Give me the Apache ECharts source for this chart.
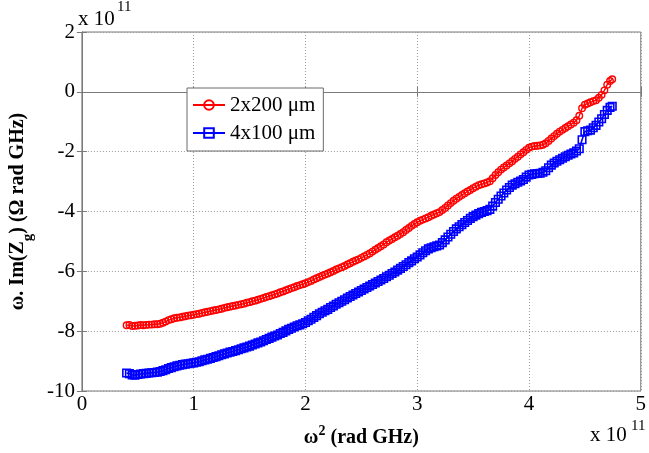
<!DOCTYPE html>
<html>
<head>
<meta charset="utf-8">
<script src="https://cdn.jsdelivr.net/npm/echarts@6/dist/echarts.min.js"></script>
<style>
  html, body { margin: 0; padding: 0; background: #fff; }
  #chart { width: 649px; height: 453px; }
</style>
</head>
<body>
<div id="chart"></div>
<script>
// ω² in units of 1e11 rad GHz
const omegaSq = [
  0.400, 0.425, 0.450, 0.475, 0.500, 0.525, 0.550, 0.575, 0.600, 0.625,
  0.650, 0.675, 0.700, 0.725, 0.750, 0.775, 0.800, 0.825, 0.850, 0.875,
  0.900, 0.925, 0.950, 0.975, 1.000, 1.025, 1.050, 1.075, 1.100, 1.125,
  1.150, 1.175, 1.200, 1.225, 1.250, 1.275, 1.300, 1.325, 1.350, 1.375,
  1.400, 1.425, 1.450, 1.475, 1.500, 1.525, 1.550, 1.575, 1.600, 1.625,
  1.650, 1.675, 1.700, 1.725, 1.750, 1.775, 1.800, 1.825, 1.850, 1.875,
  1.900, 1.925, 1.950, 1.975, 2.000, 2.025, 2.050, 2.075, 2.100, 2.125,
  2.150, 2.175, 2.200, 2.225, 2.250, 2.275, 2.300, 2.325, 2.350, 2.375,
  2.400, 2.425, 2.450, 2.475, 2.500, 2.525, 2.550, 2.575, 2.600, 2.625,
  2.650, 2.675, 2.700, 2.725, 2.750, 2.775, 2.800, 2.825, 2.850, 2.875,
  2.900, 2.925, 2.950, 2.975, 3.000, 3.025, 3.050, 3.075, 3.100, 3.125,
  3.150, 3.175, 3.200, 3.225, 3.250, 3.275, 3.300, 3.325, 3.350, 3.375,
  3.400, 3.425, 3.450, 3.475, 3.500, 3.525, 3.550, 3.575, 3.600, 3.625,
  3.650, 3.675, 3.700, 3.725, 3.750, 3.775, 3.800, 3.825, 3.850, 3.875,
  3.900, 3.925, 3.950, 3.975, 4.000, 4.025, 4.050, 4.075, 4.100, 4.125,
  4.150, 4.175, 4.200, 4.225, 4.250, 4.275, 4.300, 4.325, 4.350, 4.375,
  4.400, 4.425, 4.450, 4.475, 4.500, 4.525, 4.550, 4.575, 4.600, 4.625,
  4.650, 4.675, 4.700, 4.725, 4.745
];

// ω·Im(Zg) in units of 1e11 Ω rad GHz, 2x200 µm device
const imZg2x200 = [
  -7.80, -7.79, -7.83, -7.82, -7.81, -7.79, -7.80, -7.79, -7.78, -7.78,
  -7.77, -7.77, -7.75, -7.72, -7.68, -7.63, -7.60, -7.57, -7.55, -7.54,
  -7.52, -7.50, -7.48, -7.47, -7.45, -7.43, -7.42, -7.39, -7.37, -7.35,
  -7.33, -7.31, -7.29, -7.27, -7.25, -7.22, -7.20, -7.18, -7.16, -7.14,
  -7.12, -7.10, -7.08, -7.05, -7.03, -7.00, -6.98, -6.95, -6.92, -6.89,
  -6.86, -6.83, -6.80, -6.77, -6.74, -6.70, -6.67, -6.63, -6.60, -6.56,
  -6.53, -6.49, -6.46, -6.43, -6.40, -6.36, -6.32, -6.27, -6.23, -6.19,
  -6.15, -6.11, -6.07, -6.03, -5.99, -5.94, -5.90, -5.86, -5.82, -5.77,
  -5.73, -5.68, -5.64, -5.60, -5.55, -5.50, -5.45, -5.40, -5.34, -5.28,
  -5.22, -5.16, -5.10, -5.03, -4.97, -4.92, -4.86, -4.81, -4.75, -4.69,
  -4.62, -4.55, -4.48, -4.42, -4.36, -4.31, -4.27, -4.23, -4.19, -4.14,
  -4.10, -4.06, -4.02, -3.95, -3.88, -3.80, -3.72, -3.64, -3.57, -3.51,
  -3.45, -3.39, -3.33, -3.28, -3.22, -3.17, -3.12, -3.09, -3.06, -3.03,
  -2.99, -2.89, -2.78, -2.69, -2.60, -2.53, -2.46, -2.39, -2.32, -2.24,
  -2.17, -2.09, -2.02, -1.94, -1.87, -1.83, -1.81, -1.80, -1.79, -1.77,
  -1.72, -1.64, -1.56, -1.48, -1.40, -1.33, -1.27, -1.21, -1.15, -1.09,
  -1.03, -0.95, -0.80, -0.55, -0.43, -0.39, -0.35, -0.31, -0.28, -0.20,
  -0.10, 0.05, 0.24, 0.36, 0.42
];

// ω·Im(Zg) in units of 1e11 Ω rad GHz, 4x100 µm device
const imZg4x100 = [
  -9.40, -9.42, -9.46, -9.47, -9.45, -9.43, -9.42, -9.41, -9.40, -9.39,
  -9.38, -9.37, -9.35, -9.32, -9.29, -9.25, -9.22, -9.19, -9.16, -9.14,
  -9.12, -9.10, -9.09, -9.07, -9.06, -9.04, -9.02, -8.99, -8.96, -8.94,
  -8.91, -8.88, -8.85, -8.82, -8.79, -8.76, -8.73, -8.70, -8.68, -8.65,
  -8.62, -8.59, -8.56, -8.53, -8.50, -8.46, -8.43, -8.39, -8.36, -8.32,
  -8.28, -8.24, -8.20, -8.16, -8.13, -8.08, -8.04, -7.99, -7.94, -7.90,
  -7.86, -7.82, -7.79, -7.75, -7.71, -7.65, -7.60, -7.54, -7.48, -7.42,
  -7.37, -7.32, -7.27, -7.21, -7.16, -7.10, -7.05, -7.00, -6.95, -6.89,
  -6.84, -6.79, -6.74, -6.69, -6.64, -6.59, -6.54, -6.49, -6.44, -6.39,
  -6.34, -6.29, -6.24, -6.18, -6.13, -6.07, -6.02, -5.96, -5.90, -5.84,
  -5.78, -5.71, -5.65, -5.58, -5.52, -5.45, -5.38, -5.31, -5.25, -5.21,
  -5.18, -5.15, -5.12, -5.04, -4.95, -4.85, -4.76, -4.67, -4.58, -4.51,
  -4.44, -4.37, -4.30, -4.23, -4.17, -4.12, -4.07, -4.03, -4.00, -3.97,
  -3.93, -3.82, -3.70, -3.59, -3.48, -3.38, -3.28, -3.20, -3.12, -3.07,
  -3.02, -2.98, -2.93, -2.85, -2.78, -2.76, -2.74, -2.73, -2.72, -2.69,
  -2.64, -2.54, -2.45, -2.38, -2.32, -2.27, -2.22, -2.17, -2.12, -2.08,
  -2.04, -1.98, -1.90, -1.60, -1.33, -1.30, -1.28, -1.20, -1.12, -1.01,
  -0.90, -0.76, -0.62, -0.52, -0.48
];

const seriesNames = ['2x200 \u03bcm', '4x100 \u03bcm'];
const xTicks = [0, 1, 2, 3, 4, 5];
const yTicks = [-10, -8, -6, -4, -2, 0, 2];

const serif = '"Liberation Serif", "DejaVu Serif", serif';
const frameColor = '#7a7a7a';

function pairs(xs, ys) { return xs.map((x, i) => [x, ys[i]]); }

const chart = echarts.init(document.getElementById('chart'), null, { renderer: 'canvas' });

const gridLine = { show: true, lineStyle: { type: [1, 2], color: '#9c9c9c', width: 1 } };
const mirrorTicks = { show: true, inside: true, length: 5, lineStyle: { color: frameColor } };

chart.setOption({
  animation: false,
  backgroundColor: '#fff',
  grid: { left: 79, right: 5, top: 32, bottom: 60, show: true, borderColor: frameColor, borderWidth: 1, backgroundColor: 'transparent' },
  legend: {
    data: seriesNames,
    orient: 'vertical',
    left: 187, top: 88,
    padding: [5, 8, 6, 5],
    itemGap: 4,
    itemWidth: 32, itemHeight: 12,
    backgroundColor: '#fff',
    borderColor: '#6a6a6a', borderWidth: 1, borderRadius: 0,
    textStyle: { fontFamily: serif, fontSize: 21, lineHeight: 24, color: '#000' }
  },
  xAxis: [{
    type: 'value', min: xTicks[0], max: xTicks[xTicks.length - 1], interval: 1,
    position: 'bottom',
    axisLine: { show: true, lineStyle: { color: frameColor } },
    axisTick: mirrorTicks,
    axisLabel: { fontFamily: serif, fontSize: 21, color: '#000', margin: 3 },
    splitLine: gridLine,
    name: '{b|\u03c9}{sup|2}{b| (rad GHz)}',
    nameLocation: 'middle', nameGap: 33,
    nameTextStyle: {
      rich: {
        b: { fontFamily: serif, fontSize: 20, fontWeight: 'bold', color: '#000', lineHeight: 24, verticalAlign: 'bottom' },
        sup: { fontFamily: serif, fontSize: 14, fontWeight: 'bold', color: '#000', lineHeight: 24, verticalAlign: 'top' }
      }
    }
  }, {
    type: 'value', min: xTicks[0], max: xTicks[xTicks.length - 1], interval: 1,
    position: 'top',
    axisLine: { show: true, lineStyle: { color: frameColor } },
    axisTick: mirrorTicks,
    axisLabel: { show: false }, splitLine: { show: false }
  }],
  yAxis: [{
    type: 'value', min: yTicks[0], max: yTicks[yTicks.length - 1], interval: 2,
    position: 'left',
    axisLine: { show: true, lineStyle: { color: frameColor } },
    axisTick: mirrorTicks,
    axisLabel: { fontFamily: serif, fontSize: 21, color: '#000', margin: 7 },
    splitLine: gridLine,
    name: '{b|\u03c9. Im(Z}{sub|g}{b|) (\u03a9 rad GHz)}',
    nameLocation: 'middle', nameGap: 45,
    nameTextStyle: {
      rich: {
        b: { fontFamily: serif, fontSize: 20, fontWeight: 'bold', color: '#000', lineHeight: 28, verticalAlign: 'top' },
        sub: { fontFamily: serif, fontSize: 15, fontWeight: 'bold', color: '#000', lineHeight: 28, verticalAlign: 'bottom' }
      }
    }
  }, {
    type: 'value', min: yTicks[0], max: yTicks[yTicks.length - 1], interval: 2,
    position: 'right',
    axisLine: { show: true, lineStyle: { color: frameColor } },
    axisTick: mirrorTicks,
    axisLabel: { show: false }, splitLine: { show: false }
  }],
  graphic: [
    { type: 'text', left: 78, top: 9, style: { text: 'x 10', fontFamily: serif, fontSize: 21, fill: '#000' } },
    { type: 'text', left: 117, top: 0, style: { text: '11', fontFamily: serif, fontSize: 15, fill: '#000' } },
    { type: 'text', left: 590, top: 425, style: { text: 'x 10', fontFamily: serif, fontSize: 21, fill: '#000' } },
    { type: 'text', left: 631, top: 419, style: { text: '11', fontFamily: serif, fontSize: 15, fill: '#000' } }
  ],
  series: [{
    name: seriesNames[0], type: 'line',
    data: pairs(omegaSq, imZg2x200),
    symbol: 'circle', symbolSize: 6.5, showSymbol: true,
    itemStyle: { color: 'rgba(255,255,255,0)', borderColor: '#ff0000', borderWidth: 1.4 },
    lineStyle: { color: '#ff0000', width: 1.4 },
    color: '#ff0000'
  }, {
    name: seriesNames[1], type: 'line',
    data: pairs(omegaSq, imZg4x100),
    symbol: 'rect', symbolSize: 7.5, showSymbol: true,
    itemStyle: { color: 'rgba(255,255,255,0)', borderColor: '#0000ff', borderWidth: 1.6 },
    lineStyle: { color: '#0000ff', width: 1.6 },
    color: '#0000ff'
  }]
});
</script>
</body>
</html>
